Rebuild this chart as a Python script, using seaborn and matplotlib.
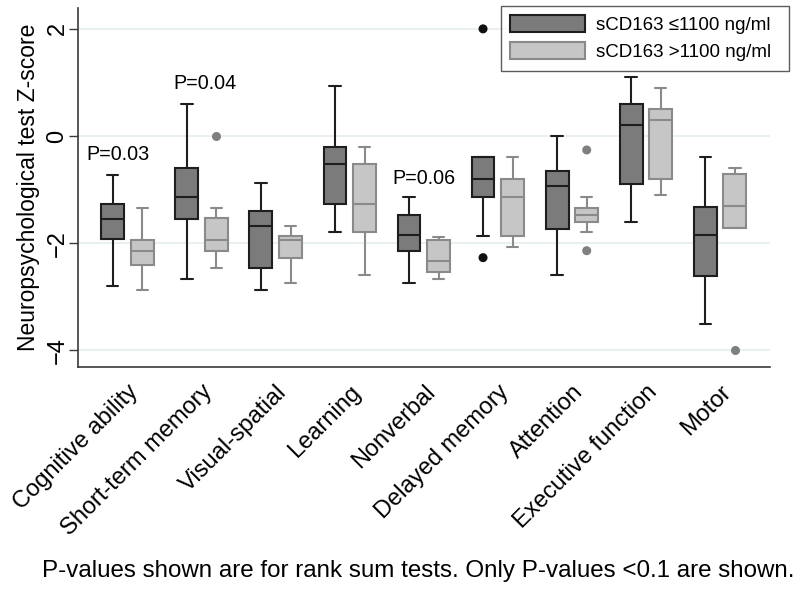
import matplotlib
matplotlib.use("Agg")
import matplotlib.pyplot as plt
from matplotlib.colors import to_hex
from matplotlib.patches import Patch
import seaborn as sns
import pandas as pd

# five-number summaries (whisker low, Q1, median, Q3, whisker high)
categories = ["Cognitive ability", "Short-term memory", "Visual-spatial", "Learning",
              "Nonverbal", "Delayed memory", "Attention", "Executive function", "Motor"]
groups = ["sCD163 \u22641100 ng/ml", "sCD163 >1100 ng/ml"]

low_lo = [-2.79, -2.67, -2.87, -1.80, -2.74, -1.87, -2.60, -1.60, -3.50]
low_q1 = [-1.93, -1.54, -2.47, -1.27, -2.14, -1.14, -1.74, -0.89, -2.61]
low_med = [-1.54, -1.14, -1.67, -0.53, -1.84, -0.80, -0.94, 0.20, -1.85]
low_q3 = [-1.27, -0.60, -1.40, -0.20, -1.47, -0.40, -0.66, 0.60, -1.32]
low_hi = [-0.73, 0.60, -0.87, 0.93, -1.14, -0.40, 0.00, 1.10, -0.40]

high_lo = [-2.87, -2.47, -2.74, -2.60, -2.67, -2.07, -1.80, -1.10, -1.71]
high_q1 = [-2.40, -2.14, -2.27, -1.80, -2.53, -1.87, -1.60, -0.80, -1.71]
high_med = [-2.14, -1.94, -1.94, -1.27, -2.34, -1.14, -1.47, 0.30, -1.30]
high_q3 = [-1.94, -1.53, -1.87, -0.53, -1.94, -0.80, -1.34, 0.50, -0.70]
high_hi = [-1.34, -1.34, -1.67, -0.20, -1.88, -0.40, -1.14, 0.89, -0.60]

# outside values
low_out_cat = ["Delayed memory", "Delayed memory"]
low_out_val = [2.00, -2.27]
high_out_cat = ["Short-term memory", "Attention", "Attention", "Motor"]
high_out_val = [0.00, -0.26, -2.14, -4.00]

# P-values shown above some pairs
p_text = ["P=0.03", "P=0.04", "P=0.06"]
p_x = [-0.13, 1.04, 4.0]
p_y = [-0.35, 0.98, -0.80]

fills = ["#7b7b7b", "#c6c6c6"]
edges = ["#1e1e1e", "#8a8a8a"]
dots = ["#111111", "#808080"]

rows = []
for g, stats in zip(groups, [(low_lo, low_q1, low_med, low_q3, low_hi),
                             (high_lo, high_q1, high_med, high_q3, high_hi)]):
    for i, cat in enumerate(categories):
        for s in stats:
            rows.append({"test": cat, "z": s[i], "group": g})
df = pd.DataFrame(rows)

out_df = pd.DataFrame({
    "test": low_out_cat + high_out_cat,
    "z": low_out_val + high_out_val,
    "group": [groups[0]] * len(low_out_cat) + [groups[1]] * len(high_out_cat),
})

sns.set_theme(style="white")
plt.rcParams["font.family"] = ["Liberation Sans", "DejaVu Sans"]
plt.rcParams.update({"text.color": "black", "axes.labelcolor": "black",
                     "xtick.color": "black", "ytick.color": "black"})

fig = plt.figure(figsize=(8, 5.9), dpi=100)
ax = fig.add_axes([0.097, 0.378, 0.8655, 0.6085])

sns.boxplot(data=df, x="test", y="z", hue="group", order=categories, hue_order=groups,
            palette=fills, saturation=1, whis=(0, 100), showfliers=False, width=0.8,
            gap=0.23, linecolor=edges[0], linewidth=1.5, legend=False, ax=ax)

# light boxes get grey outlines
for cont in ax.containers:
    if to_hex(cont.boxes[0].get_facecolor()) == fills[1]:
        for b in cont.boxes:
            b.set_edgecolor(edges[1])
        for ln in list(cont.whiskers) + list(cont.caps) + list(cont.medians):
            ln.set_color(edges[1])

sns.stripplot(data=out_df, x="test", y="z", hue="group", order=categories,
              hue_order=groups, palette=dots, dodge=True, jitter=False,
              size=6.5, linewidth=0, legend=False, ax=ax)

for t, x, y in zip(p_text, p_x, p_y):
    ax.text(x, y, t, ha="center", va="center", fontsize=14.2)

ax.set_xlim(-0.675, 8.675)
ax.set_ylim(-4.31, 2.39)
ax.set_yticks([-4, -2, 0, 2])
ax.yaxis.grid(True, color="#e4eef0", linewidth=1.2)
ax.set_axisbelow(True)
sns.despine(ax=ax)
for side in ["left", "bottom"]:
    ax.spines[side].set_color("#3a3a3a")
    ax.spines[side].set_linewidth(1.2)

ax.tick_params(axis="y", length=6.5, width=1, color="#3a3a3a", pad=0, labelsize=17, left=True)
plt.setp(ax.get_yticklabels(), rotation=90, va="center")
ax.tick_params(axis="x", length=0, pad=10, labelsize=17)
ax.set_xticks(range(len(categories)))
ax.set_xticklabels(categories, rotation=45, ha="right", rotation_mode="anchor")
ax.set_xlabel("")
ax.set_ylabel("Neuropsychological test Z-score", fontsize=16.5, labelpad=5)

handles = [Patch(facecolor=f, edgecolor=e, linewidth=1.5) for f, e in zip(fills, edges)]
leg = ax.legend(handles, groups, loc="upper left", mode="expand",
                bbox_to_anchor=(0.626, 0.5, 0.36, 0.4903), bbox_transform=fig.transFigure,
                fontsize=13.5, frameon=True, fancybox=False,
                handlelength=4, handleheight=1.05, handletextpad=0.6, labelspacing=0.42,
                borderpad=0.5, borderaxespad=0)
leg.get_frame().set_edgecolor("#333333")
leg.get_frame().set_linewidth(1)

fig.text(0.0525, 0.032, "P-values shown are for rank sum tests. Only P-values <0.1 are shown.",
         fontsize=17.4, va="center", ha="left")

fig.savefig("out.png", dpi=100)
